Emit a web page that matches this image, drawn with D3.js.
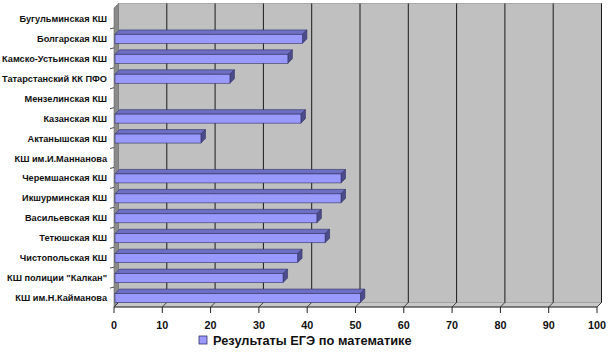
<!DOCTYPE html>
<html>
<head>
<meta charset="utf-8">
<script src="https://cdn.jsdelivr.net/npm/d3@7"></script>
<style>
  body { margin: 0; background: #fff; }
  svg { display: block; font-family: "Liberation Sans", Arial, sans-serif; font-weight: bold; }
</style>
</head>
<body>
<svg></svg>
<script>
// schools, top to bottom as in the picture
const schools = [
  "Бугульминская КШ",
  "Болгарская КШ",
  "Камско-Устьинская КШ",
  "Татарстанский КК ПФО",
  "Мензелинская КШ",
  "Казанская КШ",
  "Актанышская КШ",
  "КШ им.И.Маннанова",
  "Черемшанская КШ",
  "Икшурминская КШ",
  "Васильевская КШ",
  "Тетюшская КШ",
  "Чистопольская КШ",
  "КШ полиции \"Калкан\"",
  "КШ им.Н.Кайманова"
];
const scores = [0, 39, 36, 24, 0, 38.7, 18, 0, 47, 47, 42, 43.7, 38, 35, 51];
const ticks = [0, 10, 20, 30, 40, 50, 60, 70, 80, 90, 100];
const seriesName = "Результаты ЕГЭ по математике";

const width = 610, height = 352;
const dx = 4.5, dy = -4.5; // 3d depth offset

const svg = d3.select("svg").attr("width", width).attr("height", height);

const x = d3.scaleLinear().domain([0, 100]).range([114, 597]);
const y = d3.scaleBand().domain(schools).range([8, 307]);
const yTop = y.range()[0], yBottom = y.range()[1];

// back wall
svg.append("rect")
  .attr("x", x(0) + dx).attr("y", yTop + dy)
  .attr("width", x(100) - x(0)).attr("height", yBottom - yTop)
  .attr("fill", "#c0c0c0").attr("stroke", "#a8a8a8").attr("stroke-width", 1);

// left wall
svg.append("polygon")
  .attr("points", [[x(0), yTop], [x(0) + dx, yTop + dy], [x(0) + dx, yBottom + dy], [x(0), yBottom]].join(" "))
  .attr("fill", "#8a8a8a").attr("stroke", "#6a6a6a").attr("stroke-width", 0.6);

// floor
svg.append("polygon")
  .attr("points", [[x(0), yBottom], [x(0) + dx, yBottom + dy], [x(100) + dx, yBottom + dy], [x(100), yBottom]].join(" "))
  .attr("fill", "#c8c8c8").attr("stroke", "#9a9a9a").attr("stroke-width", 0.8);

// gridlines on back wall + floor
ticks.slice(1).forEach(t => {
  svg.append("line")
    .attr("x1", x(t) + dx).attr("x2", x(t) + dx)
    .attr("y1", yTop + dy).attr("y2", yBottom + dy)
    .attr("stroke", "#1a1a1a").attr("stroke-width", 1);
});
ticks.forEach(t => {
  svg.append("line")
    .attr("x1", x(t) + dx).attr("y1", yBottom + dy)
    .attr("x2", x(t)).attr("y2", yBottom)
    .attr("stroke", "#1a1a1a").attr("stroke-width", 0.8);
});

// category ticks on left
schools.forEach((s, i) => {
  const yy = y(s) + y.bandwidth();
  if (i < schools.length - 1)
    svg.append("line")
      .attr("x1", x(0) - 4).attr("x2", x(0))
      .attr("y1", yy + 1).attr("y2", yy)
      .attr("stroke", "#222").attr("stroke-width", 0.8);
});

// front axis
svg.append("line")
  .attr("x1", x(0)).attr("x2", x(100))
  .attr("y1", yBottom).attr("y2", yBottom)
  .attr("stroke", "#333").attr("stroke-width", 1);
ticks.forEach(t => {
  svg.append("line")
    .attr("x1", x(t)).attr("x2", x(t))
    .attr("y1", yBottom).attr("y2", yBottom + 6)
    .attr("stroke", "#222").attr("stroke-width", 1);
  svg.append("text")
    .attr("x", x(t)).attr("y", 329)
    .attr("text-anchor", "middle")
    .attr("font-size", 10.8).attr("fill", "#111")
    .text(t);
});

// bars
const bh = 9;
const bars = svg.selectAll("g.bar")
  .data(schools.map((s, i) => ({ name: s, v: scores[i] })).filter(d => d.v > 0))
  .enter().append("g").attr("class", "bar");

bars.each(function(d) {
  const g = d3.select(this);
  const cy = y(d.name) + y.bandwidth() / 2 + 1;
  const y0 = cy - bh / 2, y1 = cy + bh / 2;
  const x0 = x(0) + 1, x1 = x(d.v);
  // top face
  g.append("polygon")
    .attr("points", [[x0, y0], [x0 + dx, y0 + dy], [x1 + dx, y0 + dy], [x1, y0]].join(" "))
    .attr("fill", "#6e6ec2").attr("stroke", "#333366").attr("stroke-width", 0.6);
  // side face
  g.append("polygon")
    .attr("points", [[x1, y0], [x1 + dx, y0 + dy], [x1 + dx, y1 + dy], [x1, y1]].join(" "))
    .attr("fill", "#4c4c8c").attr("stroke", "#333366").attr("stroke-width", 0.6);
  // front face
  g.append("rect")
    .attr("x", x0).attr("y", y0)
    .attr("width", x1 - x0).attr("height", bh)
    .attr("fill", "#9999ff").attr("stroke", "#333366").attr("stroke-width", 0.6);
});

// category labels
svg.selectAll("text.cat")
  .data(schools)
  .enter().append("text")
  .attr("class", "cat")
  .attr("x", 107)
  .attr("y", d => y(d) + y.bandwidth() / 2 + 4)
  .attr("text-anchor", "end")
  .attr("font-size", 9.2).attr("fill", "#111")
  .text(d => d);

// legend
svg.append("rect")
  .attr("x", 199).attr("y", 336).attr("width", 8).attr("height", 8)
  .attr("fill", "#9999ff").attr("stroke", "#333366").attr("stroke-width", 0.8);
svg.append("text")
  .attr("x", 213).attr("y", 345)
  .attr("font-size", 12.8).attr("fill", "#111")
  .text(seriesName);
</script>
</body>
</html>
